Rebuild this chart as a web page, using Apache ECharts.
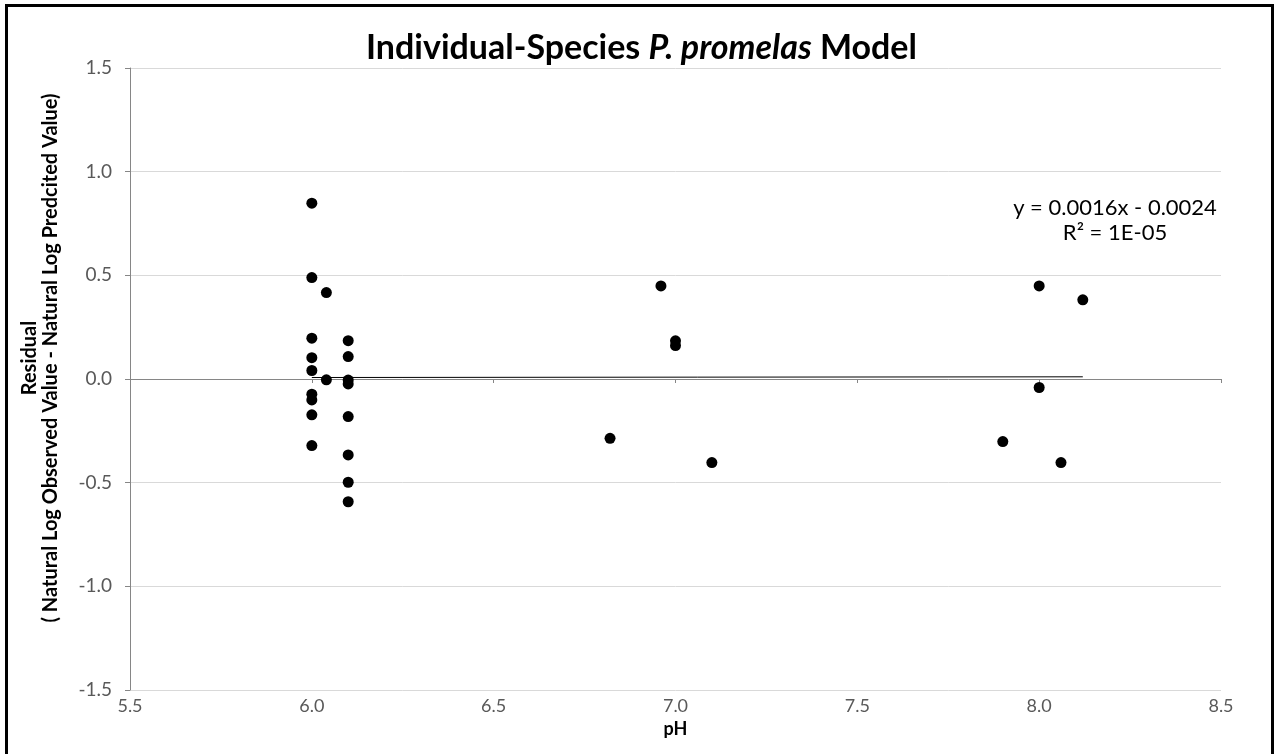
<!DOCTYPE html>
<html>
<head>
<meta charset="utf-8">
<title>Individual-Species P. promelas Model</title>
<script src="https://cdn.jsdelivr.net/npm/echarts@6/dist/echarts.min.js"></script>
<style>
    html, body { margin: 0; padding: 0; background: #fff; }
    #frame {
        position: absolute;
        left: 5px; top: 4px; right: 1px; bottom: 0;
        border: 3px solid #000;
        border-bottom: 0;
        box-sizing: border-box;
    }
    #chart { position: absolute; left: 0; top: 0; width: 1275px; height: 754px; }
</style>
</head>
<body>
<div id="chart"></div>
<div id="frame"></div>
<script>
// residuals
const phValues = [
    6.0, 6.0, 6.0, 6.0, 6.0, 6.0, 6.0, 6.0, 6.0,
    6.04, 6.04,
    6.1, 6.1, 6.1, 6.1, 6.1, 6.1, 6.1, 6.1,
    6.82, 6.96, 7.0, 7.0, 7.1,
    7.9, 8.0, 8.0, 8.06, 8.12
];
const residuals = [
    0.848, 0.489, 0.197, 0.103, 0.041, -0.073, -0.101, -0.173, -0.321,
    0.417, -0.004,
    0.185, 0.108, -0.005, -0.024, -0.181, -0.366, -0.498, -0.592,
    -0.286, 0.449, 0.184, 0.161, -0.403,
    -0.302, 0.449, -0.041, -0.403, 0.382
];
// linear trendline end points (y = 0.0016x - 0.0024)
const trendX = [6.0, 8.12];
const trendY = [0.0072, 0.0106];
const equationLines = ['y = 0.0016x - 0.0024', 'R² = 1E-05'];

const font = 'Lato';

const myChart = echarts.init(document.getElementById('chart'));
myChart.setOption({
    backgroundColor: '#fff',
    animation: false,
    title: {
        text: '{b|Individual-Species }{i|P. promelas}{b| Model}',
        left: 361,
        top: 26,
        textStyle: {
            rich: {
                b: { fontFamily: font, fontWeight: 'bold', fontSize: 34, color: '#000' },
                i: { fontFamily: font, fontWeight: 'bold', fontStyle: 'italic', fontSize: 34, color: '#000' }
            }
        }
    },
    grid: {
        left: 130,
        right: 54,
        top: 68,
        bottom: 64,
        containLabel: false
    },
    xAxis: {
        type: 'value',
        min: 5.5,
        max: 8.5,
        interval: 0.5,
        name: 'pH',
        nameLocation: 'middle',
        nameGap: 30,
        nameTextStyle: { fontFamily: font, fontWeight: 'bold', fontSize: 18, color: '#000' },
        axisLine: { lineStyle: { color: '#868686' } },
        axisTick: { show: true, length: 4, lineStyle: { color: '#868686' } },
        axisLabel: {
            fontFamily: font, fontSize: 18, color: '#595959', margin: 7,
            formatter: v => v.toFixed(1)
        },
        splitLine: { show: false }
    },
    yAxis: {
        type: 'value',
        min: -1.5,
        max: 1.5,
        interval: 0.5,
        axisLine: { show: true, lineStyle: { color: '#868686' } },
        axisTick: { show: true, length: 5, lineStyle: { color: '#868686' } },
        axisLabel: {
            fontFamily: font, fontSize: 19, color: '#595959', margin: 18,
            formatter: v => v.toFixed(1)
        },
        splitLine: { show: true, lineStyle: { color: '#d9d9d9' } }
    },
    graphic: [
        {
            type: 'text',
            x: 40,
            y: 358,
            rotation: Math.PI / 2,
            style: {
                text: 'Residual\n( Natural Log Observed Value - Natural Log Predcited Value)',
                fontFamily: font,
                fontWeight: 'bold',
                fontSize: 20,
                fill: '#000',
                align: 'center',
                verticalAlign: 'middle',
                lineHeight: 21
            }
        },
        {
            type: 'text',
            x: 1115,
            y: 220,
            style: {
                text: equationLines.join('\n'),
                fontFamily: font,
                fontSize: 22,
                fill: '#000',
                align: 'center',
                verticalAlign: 'middle',
                lineHeight: 25
            }
        }
    ],
    series: [
        {
            name: 'Residual',
            type: 'scatter',
            symbol: 'circle',
            symbolSize: 11,
            itemStyle: { color: '#000', opacity: 1 },
            data: phValues.map((x, i) => [x, residuals[i]]),
            z: 3
        },
        {
            name: 'Linear trend',
            type: 'line',
            symbol: 'none',
            lineStyle: { color: '#000', width: 1 },
            data: trendX.map((x, i) => [x, trendY[i]]),
            z: 2
        }
    ]
});
</script>
</body>
</html>
